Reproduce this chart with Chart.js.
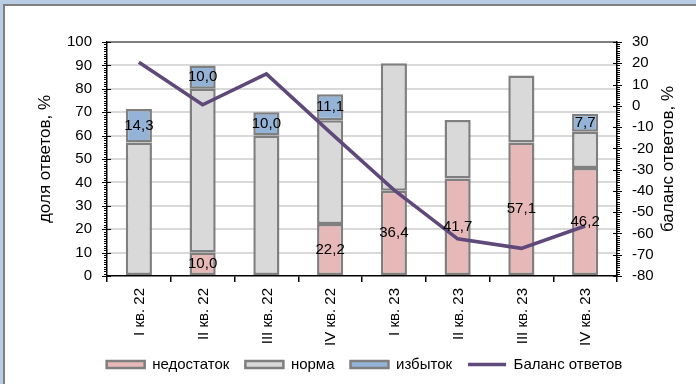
<!DOCTYPE html>
<html lang="ru">
<head>
<meta charset="utf-8">
<title>Доля ответов</title>
<script src="https://cdn.jsdelivr.net/npm/chart.js@4.4.0/dist/chart.umd.min.js"></script>
<style>
  html, body { margin: 0; padding: 0; }
  body { width: 696px; height: 384px; background: #b9cde5; position: relative; overflow: hidden; }
  .panel { position: absolute; left: 3px; top: 4px; right: 0; bottom: 0; background: #fff;
           border-left: 2px solid #7f7f7f; border-top: 2px solid #7f7f7f; }
  .wrap { position: absolute; left: 0; top: 0; width: 696px; height: 384px; }
</style>
</head>
<body>
<div class="panel"></div>
<div class="wrap"><canvas id="chart" width="696" height="384"></canvas></div>
<script>
// quarters and survey shares, %
const quarters = ['I кв. 22', 'II кв. 22', 'III кв. 22', 'IV кв. 22', 'I кв. 23', 'II кв. 23', 'III кв. 23', 'IV кв. 23'];
const shortage = [0, 10.0, 0, 22.2, 36.4, 41.7, 57.1, 46.2];
const normal   = [57.1, 70.0, 60.0, 44.4, 54.5, 25.0, 28.6, 15.4];
const surplus  = [14.3, 10.0, 10.0, 11.1, 0, 0, 0, 7.7];
const balance  = [20.5, 0.5, 15, -12.5, -39.5, -62.5, -67, -56.5];

const leftTitle = 'доля ответов, %';
const rightTitle = 'баланс ответов, %';

const FONT = '"Liberation Sans", Arial, sans-serif';

function fmt(v) {
  return v.toFixed(1).replace('.', ',');
}

// empty segments are left out so they draw no border
const nz = arr => arr.map(v => (v ? v : null));

// x labels read bottom-to-top, so they are drawn by hand
const quarterLabels = {
  id: 'quarterLabels',
  afterDraw(chart) {
    const ctx = chart.ctx;
    const xs = chart.scales.x;
    ctx.save();
    ctx.font = '15px ' + FONT;
    ctx.fillStyle = '#000';
    ctx.textAlign = 'right';
    ctx.textBaseline = 'middle';
    quarters.forEach((q, i) => {
      ctx.save();
      ctx.translate(xs.getPixelForTick(i), xs.top + 12);
      ctx.rotate(-Math.PI / 2);
      ctx.fillText(q, 0, 1);
      ctx.restore();
    });
    ctx.restore();
  }
};

// ruler-like minor ticks on both value axes, plus axis titles
const axisMarks = {
  id: 'axisMarks',
  afterDraw(chart) {
    const ctx = chart.ctx;
    const { y, y1 } = chart.scales;
    ctx.save();
    ctx.strokeStyle = '#000';
    ctx.lineWidth = 1;
    ctx.beginPath();
    for (let v = y.min; v <= y.max; v++) {
      const py = Math.round(y.getPixelForValue(v)) + 0.5;
      const major = v % 10 === 0;
      ctx.moveTo(y.right - (major ? 5 : 3), py);
      ctx.lineTo(y.right + (major ? 4 : 0), py);
    }
    for (let v = y1.min; v <= y1.max; v++) {
      const py = Math.round(y1.getPixelForValue(v)) + 0.5;
      const major = v % 10 === 0;
      ctx.moveTo(y1.left - (major ? 4 : 0), py);
      ctx.lineTo(y1.left + (major ? 5 : 3), py);
    }
    ctx.stroke();

    const midY = (chart.chartArea.top + chart.chartArea.bottom) / 2;
    ctx.fillStyle = '#000';
    ctx.font = '17px ' + FONT;
    ctx.textAlign = 'center';
    ctx.textBaseline = 'middle';
    [[45, leftTitle], [668, rightTitle]].forEach(([x, t]) => {
      ctx.save();
      ctx.translate(x, midY);
      ctx.rotate(-Math.PI / 2);
      ctx.fillText(t, 0, 0);
      ctx.restore();
    });
    ctx.restore();
  }
};

// value labels in the middle of the shortage / surplus segments
const segmentLabels = {
  id: 'segmentLabels',
  afterDatasetsDraw(chart) {
    const ctx = chart.ctx;
    ctx.save();
    ctx.font = '15px ' + FONT;
    ctx.fillStyle = '#000';
    ctx.textAlign = 'center';
    ctx.textBaseline = 'middle';
    chart.data.datasets.forEach((ds, di) => {
      if (!ds.showValues) return;
      chart.getDatasetMeta(di).data.forEach((bar, i) => {
        const v = ds.data[i];
        if (!v) return;
        ctx.fillText(fmt(v), bar.x, (bar.y + bar.base) / 2);
      });
    });
    ctx.restore();
  }
};

const barCommon = {
  type: 'bar',
  borderColor: '#7f7f7f',
  borderWidth: 2.5,
  borderSkipped: false,
  inflateAmount: 0,
  barPercentage: 0.41,
  categoryPercentage: 1,
  yAxisID: 'y'
};

new Chart(document.getElementById('chart'), {
  data: {
    labels: quarters,
    datasets: [
      { ...barCommon, label: 'недостаток', data: nz(shortage), backgroundColor: '#e6b9b8', showValues: true },
      { ...barCommon, label: 'норма', data: nz(normal), backgroundColor: '#d9d9d9' },
      { ...barCommon, label: 'избыток', data: nz(surplus), backgroundColor: '#95b3d7', showValues: true },
      {
        type: 'line',
        label: 'Баланс ответов',
        data: balance,
        yAxisID: 'y1',
        borderColor: '#5f497a',
        backgroundColor: '#5f497a',
        borderWidth: 3.5,
        pointRadius: 0,
        tension: 0,
        order: -1
      }
    ]
  },
  options: {
    responsive: false,
    devicePixelRatio: 1,
    animation: false,
    layout: { padding: { left: 33, right: 0, top: 42, bottom: 2 } },
    plugins: {
      tooltip: { enabled: false },
      legend: {
        position: 'bottom',
        labels: {
          usePointStyle: true,
          pointStyleWidth: 38,
          boxHeight: 7,
          padding: 16,
          color: '#000',
          font: { family: FONT, size: 15 },
          sort: (a, b) => a.datasetIndex - b.datasetIndex,
          generateLabels(chart) {
            const items = Chart.defaults.plugins.legend.labels.generateLabels(chart);
            items.forEach(it => {
              const ds = chart.data.datasets[it.datasetIndex];
              it.pointStyle = ds.type === 'line' ? 'line' : 'rect';
            });
            return items;
          }
        }
      }
    },
    scales: {
      x: {
        stacked: true,
        offset: true,
        grid: { offset: true, drawOnChartArea: false, drawTicks: true, tickLength: 6, color: '#000', lineWidth: 1.5 },
        border: { color: '#000', width: 1.5 },
        ticks: { display: false },
        afterFit(scale) { scale.height = 65; }
      },
      y: {
        position: 'left',
        stacked: true,
        min: 0,
        max: 100,
        ticks: { stepSize: 10, padding: 15, color: '#000', font: { family: FONT, size: 15 } },
        grid: {
          drawTicks: false,
          lineWidth: 2,
          color: c => c.tick.value === 100 ? '#7f7f7f' : (c.tick.value === 0 ? 'rgba(0,0,0,0)' : '#d9d9d9')
        },
        border: { color: '#000', width: 1.5 },
        afterFit(scale) { scale.width = 74; }
      },
      y1: {
        position: 'right',
        min: -80,
        max: 30,
        ticks: { stepSize: 10, padding: 15, color: '#000', font: { family: FONT, size: 15 } },
        grid: { drawOnChartArea: false, drawTicks: false },
        border: { color: '#000', width: 1.5 },
        afterFit(scale) { scale.width = 79; }
      }
    }
  },
  plugins: [segmentLabels, axisMarks, quarterLabels]
});
</script>
</body>
</html>
